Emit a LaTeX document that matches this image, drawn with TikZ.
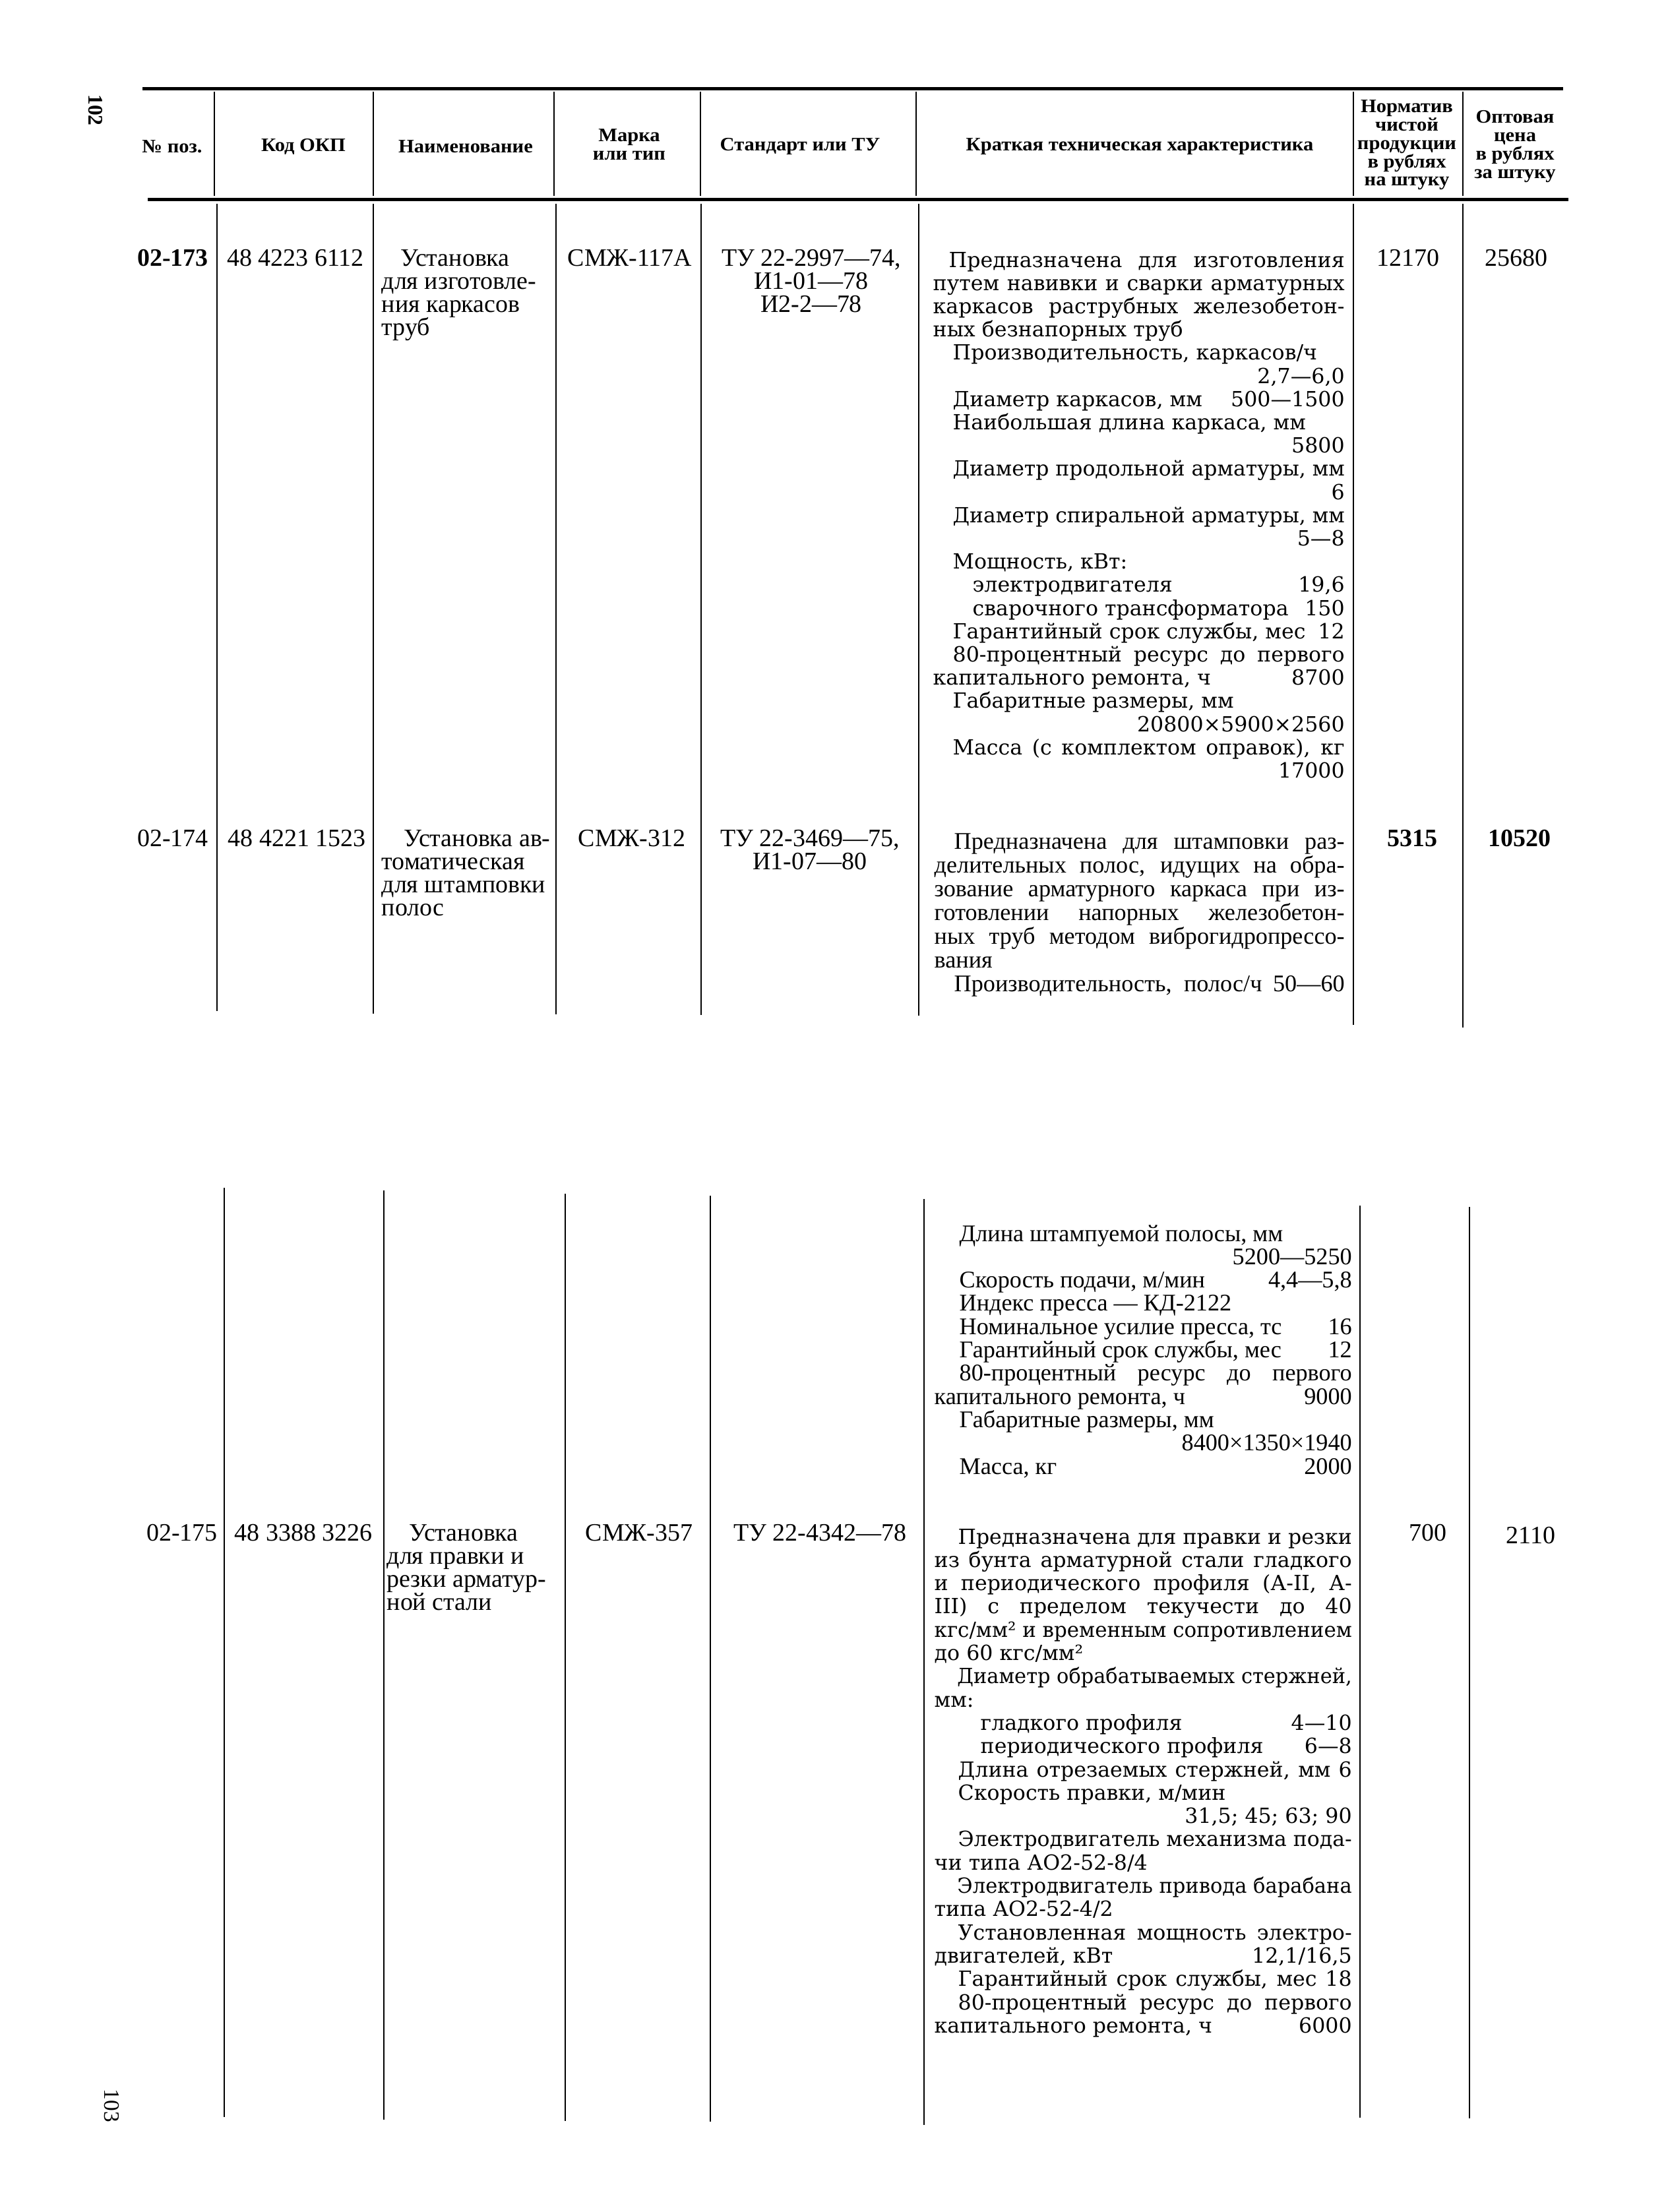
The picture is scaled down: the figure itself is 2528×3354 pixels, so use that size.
\documentclass[tikz,border=0pt]{standalone}
\usepackage{fontspec}
\usepackage{graphicx}
\setmainfont{Liberation Serif}
\newfontfamily\widefont{DejaVu Serif}
\newfontfamily\hdfont{Liberation Serif}[FakeStretch=1.06]

\newsavebox\linebox
\newcommand\jl[2]{\sbox\linebox{#2}\ifdim\wd\linebox>#1\relax\resizebox{#1}{\height}{\usebox\linebox}\else\makebox[#1][s]{#2}\fi}

\tikzset{
  thickrule/.style={line width=0.5mm},
  colline/.style={line width=0.28mm},
  hd/.style={font=\hdfont\bfseries\fontsize{8.2}{7.9}\selectfont, align=center, inner sep=0pt},
  cell/.style={font=\fontsize{10.8}{10}\selectfont, inner sep=0pt, anchor=base},
  namecell/.style={font=\fontsize{10.8}{10}\selectfont, inner sep=0pt, anchor=base west},
  txtw/.style={font=\widefont\fontsize{9}{10}\selectfont, inner sep=0pt, anchor=base west},
  txtn/.style={font=\fontsize{10.3}{10}\selectfont, inner sep=0pt, anchor=base west},
  pnum/.style={font=\bfseries\fontsize{9}{10}\selectfont, inner sep=0pt, rotate=-90}
}

\begin{document}
\begin{tikzpicture}[x=0.1mm,y=-0.1mm]

\fill[white] (0,0) rectangle (2528,3354);
\useasboundingbox (0,0) rectangle (2528,3354);

\node[pnum] (p102) at (145,167) {102};
\node[pnum, font=\fontsize{9.5}{10}\selectfont] (p103) at (169,3193) {103};

\draw[thickrule] (216,134) -- (2370,134);
\draw[thickrule] (224,302) -- (2378,302);

\foreach \x in {325,566,840,1062,1389,2052,2218}
  \draw[colline] (\x,139) -- (\x,297);

\foreach \x/\ya/\yb in {329/309/1533, 566/309/1537, 843/309/1538, 1063/309/1539, 1393/309/1540, 2052/309/1554, 2218/309/1558}
  \draw[colline] (\x,\ya) -- (\x,\yb);

\foreach \x/\ya/\yb in {340/1801/3210, 582/1805/3214, 857/1810/3216, 1077/1813/3217, 1401/1818/3222, 2062/1828/3211, 2228/1830/3212}
  \draw[colline] (\x,\ya) -- (\x,\yb);

\node[hd] (hpos) at (261,222) {№ поз.};
\node[hd] (hcode) at (460,222) {Код ОКП};
\node[hd] (hname) at (706,222) {Наименование};
\node[hd] (hmark) at (954,219) {Марка\\или тип};
\node[hd] (hstd) at (1213,222) {Стандарт или ТУ};
\node[hd] (hchar) at (1728,222) {Краткая техническая характеристика};
\node[hd] (hnorm) at (2133,220) {Норматив\\чистой\\продукции\\в рублях\\на штуку};
\node[hd] (hprice) at (2297,222) {Оптовая\\цена\\в рублях\\за штуку};

% 02-173
\node[cell] (pos173) at (262,403) {\textbf{02-173}};
\node[cell] (code173) at (448,403) {48 4223 6112};
\foreach \t [count=\i from 0] in {{\hspace*{2.9mm}Установка},{для изготовле-},{ния каркасов},{труб}}
  \node[namecell] (name173-\i) at (578,403+35.3*\i) {\t};
\node[cell] (mark173) at (955,403) {СМЖ-117А};
\foreach \t [count=\i from 0] in {{ТУ 22-2997—74,},{И1-01—78},{И2-2—78}}
  \node[cell] (std173-\i) at (1230,403+35.3*\i) {\t};
\node[cell] (norm173) at (2135,403) {12170};
\node[cell] (price173) at (2299,403) {25680};

\foreach \t [count=\i from 0] in {
  {\hspace*{2.4mm}Предназначена для изготовления},
  {путем навивки и сварки арматурных},
  {каркасов раструбных железобетон-},
  {ных безнапорных труб\hfill},
  {\hspace*{3mm}Производительность, каркасов/ч\hfill},
  {\hfill 2,7—6,0},
  {\hspace*{3mm}Диаметр каркасов, мм\hfill 500—1500},
  {\hspace*{3mm}Наибольшая длина каркаса, мм\hfill},
  {\hfill 5800},
  {\hspace*{3mm}Диаметр продольной арматуры, мм},
  {\hfill 6},
  {\hspace*{3mm}Диаметр спиральной арматуры, мм},
  {\hfill 5—8},
  {\hspace*{3mm}Мощность, кВт:\hfill},
  {\hspace*{6mm}электродвигателя\hfill 19,6},
  {\hspace*{6mm}сварочного трансформатора\hfill 150},
  {\hspace*{3mm}Гарантийный срок службы, мес\hfill 12},
  {\hspace*{3mm}80-процентный ресурс до первого},
  {капитального ремонта, ч\hfill 8700},
  {\hspace*{3mm}Габаритные размеры, мм\hfill},
  {\hfill 20800×5900×2560},
  {\hspace*{3mm}Масса (с комплектом оправок), кг},
  {\hfill 17000}}
  \node[txtw] (char173-\i) at (1414,405+35.2*\i) {\jl{62.4mm}{\t}};

% 02-174
\node[cell] (pos174) at (262,1283) {02-174};
\node[cell] (code174) at (450,1283) {48 4221 1523};
\foreach \t [count=\i from 0] in {{\hspace*{3.4mm}Установка ав-},{томатическая},{для штамповки},{полос}}
  \node[namecell] (name174-\i) at (578,1283+35.3*\i) {\t};
\node[cell] (mark174) at (958,1283) {СМЖ-312};
\foreach \t [count=\i from 0] in {{ТУ 22-3469—75,},{И1-07—80}}
  \node[cell] (std174-\i) at (1228,1283+35.3*\i) {\t};
\node[cell] (norm174) at (2141,1283) {\textbf{5315}};
\node[cell] (price174) at (2304,1283) {\textbf{10520}};

\foreach \t [count=\i from 0] in {
  {\hspace*{3mm}Предназначена для штамповки раз-},
  {делительных полос, идущих на обра-},
  {зование арматурного каркаса при из-},
  {готовлении напорных железобетон-},
  {ных труб методом виброгидропрессо-},
  {вания\hfill},
  {\hspace*{3mm}Производительность, полос/ч 50—60}}
  \node[txtn] (char174-\i) at (1416,1287+36*\i) {\jl{62.2mm}{\t}};

% 02-175
\foreach \t [count=\i from 0] in {
  {\hspace*{3.8mm}Длина штампуемой полосы, мм\hfill},
  {\hfill 5200—5250},
  {\hspace*{3.8mm}Скорость подачи, м/мин\hfill 4,4—5,8},
  {\hspace*{3.8mm}Индекс пресса — КД-2122\hfill},
  {\hspace*{3.8mm}Номинальное усилие пресса, тс\hfill 16},
  {\hspace*{3.8mm}Гарантийный срок службы, мес\hfill 12},
  {\hspace*{3.8mm}80-процентный ресурс до первого},
  {капитального ремонта, ч\hfill 9000},
  {\hspace*{3.8mm}Габаритные размеры, мм\hfill},
  {\hfill 8400×1350×1940},
  {\hspace*{3.8mm}Масса, кг\hfill 2000}}
  \node[txtn] (char174b-\i) at (1416,1882+35.3*\i) {\jl{63.3mm}{\t}};

\node[cell] (pos175) at (276,2336) {02-175};
\node[cell] (code175) at (460,2336) {48 3388 3226};
\foreach \t [count=\i from 0] in {{\hspace*{3.4mm}Установка},{для правки и},{резки арматур-},{ной стали}}
  \node[namecell] (name175-\i) at (586,2336+35.3*\i) {\t};
\node[cell] (mark175) at (969,2336) {СМЖ-357};
\node[cell] (std175) at (1243,2336) {ТУ 22-4342—78};
\node[cell] (norm175) at (2165,2336) {700};
\node[cell] (price175) at (2321,2340) {2110};

\foreach \t [count=\i from 0] in {
  {\hspace*{3.6mm}Предназначена для правки и резки},
  {из бунта арматурной стали гладкого},
  {и периодического профиля (А-II, А-},
  {III) с пределом текучести до 40},
  {кгс/мм² и временным сопротивлением},
  {до 60 кгс/мм²\hfill},
  {\hspace*{3.6mm}Диаметр обрабатываемых стержней,},
  {мм:\hfill},
  {\hspace*{7mm}гладкого профиля\hfill 4—10},
  {\hspace*{7mm}периодического профиля\hfill 6—8},
  {\hspace*{3.6mm}Длина отрезаемых стержней, мм 6},
  {\hspace*{3.6mm}Скорость правки, м/мин\hfill},
  {\hfill 31,5; 45; 63; 90},
  {\hspace*{3.6mm}Электродвигатель механизма пода-},
  {чи типа АО2-52-8/4\hfill},
  {\hspace*{3.6mm}Электродвигатель привода барабана},
  {типа АО2-52-4/2\hfill},
  {\hspace*{3.6mm}Установленная мощность электро-},
  {двигателей, кВт\hfill 12,1/16,5},
  {\hspace*{3.6mm}Гарантийный срок службы, мес 18},
  {\hspace*{3.6mm}80-процентный ресурс до первого},
  {капитального ремонта, ч\hfill 6000}}
  \node[txtw] (char175-\i) at (1416,2341+35.3*\i) {\jl{63.3mm}{\t}};

\end{tikzpicture}
\end{document}
